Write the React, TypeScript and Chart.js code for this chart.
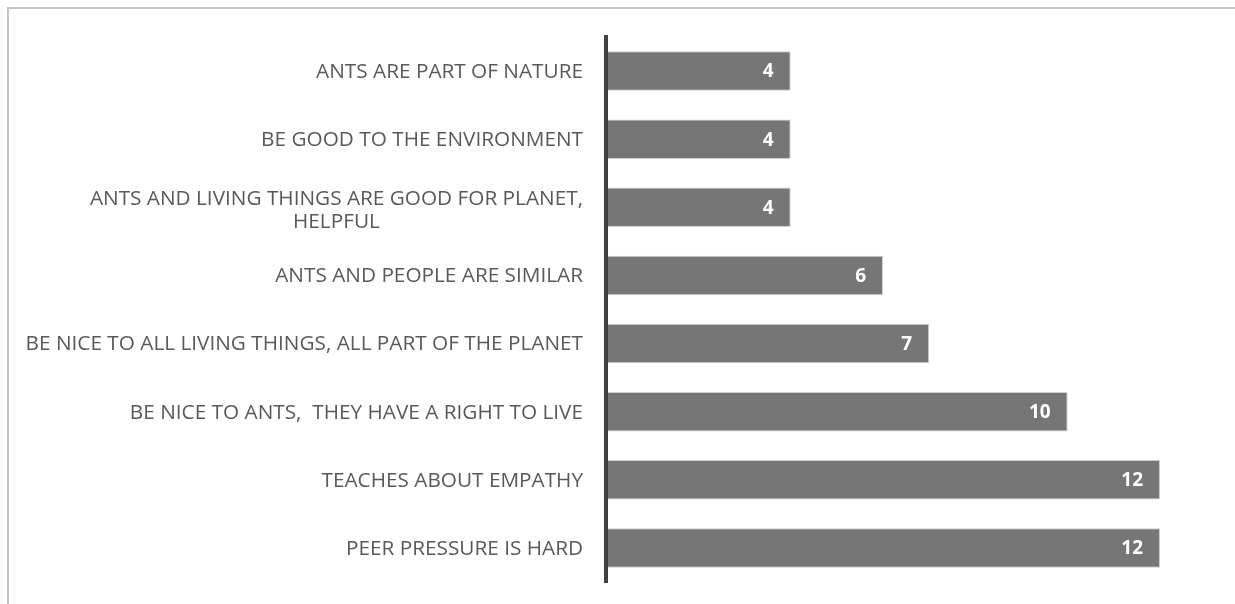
import { useEffect, useRef } from "react";
import { Chart, registerables } from "chart.js";

Chart.register(...registerables);

const categories: (string | string[])[] = [
  "ANTS ARE PART OF NATURE",
  "BE GOOD TO THE ENVIRONMENT",
  ["ANTS AND LIVING THINGS ARE GOOD FOR PLANET,", "HELPFUL"],
  "ANTS AND PEOPLE ARE SIMILAR",
  "BE NICE TO ALL LIVING THINGS, ALL PART OF THE PLANET",
  "BE NICE TO ANTS,  THEY HAVE A RIGHT TO LIVE",
  "TEACHES ABOUT EMPATHY",
  "PEER PRESSURE IS HARD",
];

const values = [4, 4, 4, 6, 7, 10, 12, 12];

const axisMin = 0;
const axisMax = 12;

const labelPlugin = {
  id: "customLabels",
  afterDraw(chart: any) {
    const ctx: CanvasRenderingContext2D = chart.ctx;
    const yScale = chart.scales.y;
    ctx.save();
    ctx.font = '20.75px "Open Sans"';
    ctx.fillStyle = "#595959";
    ctx.textBaseline = "middle";
    const right = chart.chartArea.left - 23;
    const lh = 23;
    categories.forEach((lab, i) => {
      const lines = Array.isArray(lab) ? lab : [lab];
      const cy = yScale.getPixelForTick(i);
      const widths = lines.map((l) => ctx.measureText(l).width);
      const bw = Math.max(...widths);
      lines.forEach((l, j) => {
        const extra = lines.length > 1 ? 2 : 0;
        const ly = cy + (j - (lines.length - 1) / 2) * lh + 1 + extra;
        if (lines.length === 1) {
          ctx.textAlign = "right";
          ctx.fillText(l, right, ly);
        } else {
          ctx.textAlign = "center";
          ctx.fillText(l, right - bw / 2, ly);
        }
      });
    });
    const meta = chart.getDatasetMeta(0);
    ctx.font = 'bold 19px "Open Sans"';
    ctx.fillStyle = "#ffffff";
    ctx.textAlign = "right";
    meta.data.forEach((bar: any, i: number) => {
      ctx.fillText(String(values[i]), bar.x - 17, bar.y + 1);
    });
    ctx.restore();
  },
};

export default function App() {
  const ref = useRef<HTMLCanvasElement | null>(null);

  useEffect(() => {
    if (!ref.current) return;
    const chart = new Chart(ref.current, {
      type: "bar",
      data: {
        labels: categories as any,
        datasets: [
          {
            data: values,
            backgroundColor: "#767676",
            borderColor: "#cfcfcf",
            borderWidth: 1,
            categoryPercentage: 1,
            barPercentage: 0.58,
          },
        ],
      },
      options: {
        indexAxis: "y",
        animation: false,
        responsive: false,
        devicePixelRatio: 1,
        layout: { padding: { left: 0, right: 75, top: 37, bottom: 22 } },
        plugins: {
          legend: { display: false },
          tooltip: { enabled: false },
          title: { display: false },
        },
        scales: {
          x: {
            display: false,
            min: axisMin,
            max: axisMax,
          },
          y: {
            z: 1,
            grid: { display: false },
            border: { display: true, color: "#404040", width: 4, z: 1 },
            ticks: { display: false },
            afterFit: (s: any) => {
              s.width = 606;
            },
          },
        },
      },
      plugins: [labelPlugin],
    });
    return () => chart.destroy();
  }, []);

  return (
    <>
      <div
        style={{
          position: "fixed",
          left: 7,
          top: 7,
          width: 1400,
          height: 800,
          borderTop: "2px solid #c4c4c4",
          borderLeft: "2px solid #c4c4c4",
          background: "#ffffff",
        }}
      />
      <canvas
        ref={ref}
        width={1235}
        height={604}
        style={{ position: "fixed", left: 0, top: 0, width: 1235, height: 604 }}
      />
    </>
  );
}
